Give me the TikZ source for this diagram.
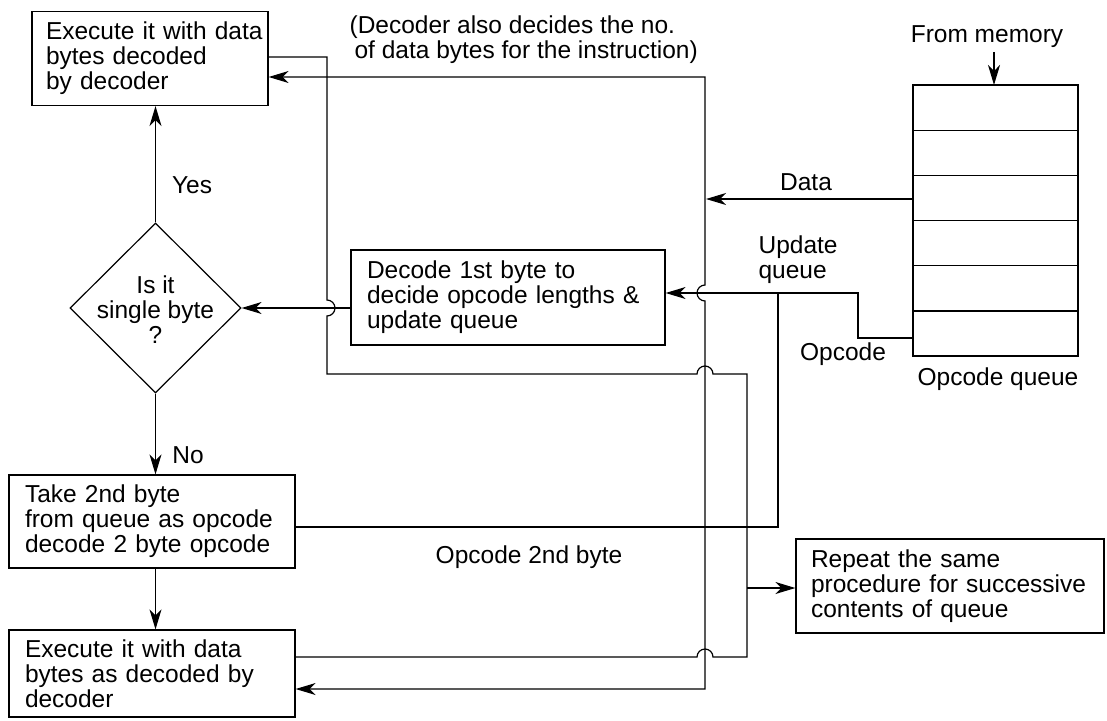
\documentclass[tikz,border=0pt]{standalone}
\usepackage{fontspec}
\setmainfont{Liberation Sans}
\usetikzlibrary{arrows.meta,shapes.geometric}

\begin{document}
\begin{tikzpicture}[x=1pt,y=-1pt,line width=1.2pt,
    font=\fontsize{24.5}{25}\selectfont,
    >={Stealth[length=20pt,width=12pt,inset=6pt]},
    box/.style={draw,align=left,inner ysep=0pt},
    decision/.style={draw,diamond,inner sep=0pt,minimum width=171pt,minimum height=170pt},
    arr/.style={->}]
\useasboundingbox (0,0) rectangle (1107,720);

% boxes of the flow chart
\node[box,inner xsep=5pt,text width=226pt,minimum height=94pt] (exec1) at (150,58.5) {\hspace*{9pt}Execute it with data\\\hspace*{9pt}bytes decoded\\\hspace*{9pt}by decoder};
\node[decision] (single) at (155.5,308) {};
\node[align=center] (singletxt) at (155.5,310) {Is it\\single byte\\?};
\node[box,inner xsep=16pt,text width=282pt,minimum height=95pt] (decode) at (508,297.5) {Decode 1st byte to\\decide opcode lengths \&\\update queue};
\node[box,inner xsep=16pt,text width=254pt,minimum height=93pt] (take) at (152,521.5) {Take 2nd byte\\from queue as opcode\\decode 2 byte opcode};
\node[box,inner xsep=16pt,text width=254pt,minimum height=87pt] (exec2) at (152,673.5) {Execute it with data\\bytes as decoded by\\decoder};
\node[box,inner xsep=15pt,text width=278pt,minimum height=94pt] (repeat) at (950,586) {Repeat the same\\procedure for successive\\contents of queue};

% opcode queue
\node[draw,minimum width=165pt,minimum height=271pt,inner sep=0pt] (queue) at (995.5,220.5) {};
\foreach \r in {1,...,5}
    \draw (913,{85+45.2*\r}) -- (1078,{85+45.2*\r});

% labels
\node[align=left,anchor=north west,inner sep=0pt] (note) at (349,15) {(Decoder also decides the no.\\\hspace*{5pt}of data bytes for the instruction)};
\node (mem) at (987,37) {From memory};
\node (lblData) at (806,182) {Data};
\node[align=left,anchor=west,inner sep=0pt] (lblUpd) at (758,260) {Update\\queue};
\node (lblOpc) at (843,354) {Opcode};
\node (lblQueue) at (998,379) {Opcode queue};
\node (lbl2nd) at (529,557) {Opcode 2nd byte};
\node (lblYes) at (192,185) {Yes};
\node (lblNo) at (188,455) {No};

% corner points
\coordinate (memIn) at (994,85);
\coordinate (lpA) at (327,57);
\coordinate (lpB) at (327,374);
\coordinate (lpC) at (747,374);
\coordinate (lpD) at (747,657);
\coordinate (rpt) at (747,588);
\coordinate (dtA) at (705,77);
\coordinate (dtB) at (705,689);
\coordinate (dtIn) at (706,199);
\coordinate (opA) at (858,338);
\coordinate (opB) at (858,293);
\coordinate (updA) at (778,293);
\coordinate (updB) at (778,527);

% main flow
\draw[arr] (single.north) -- (single.north |- exec1.south);
\draw[arr] (single.south) -- (single.south |- take.north);
\draw[arr] (single.south |- take.south) -- (single.south |- exec2.north);
\draw[arr] (decode.west |- single.east) -- (single.east);
\draw[arr] (mem.south -| memIn) -- (memIn);

% loop back to repeat
\draw (exec1.east |- lpA) -- (lpA) -- (327,300) arc[start angle=90,end angle=-90,radius=8pt]
    -- (lpB) -- (697,374) arc[start angle=180,end angle=0,radius=8pt] -- (lpC) -- (lpD)
    -- (713,657) arc[start angle=0,end angle=180,radius=8pt] -- (exec2.east |- lpD);
\draw[arr] (rpt) -- (repeat.west |- rpt);

% data bytes
\draw[<->] (exec1.east |- dtA) -- (dtA) -- (705,285) arc[start angle=90,end angle=270,radius=8pt]
    -- (dtB) -- (exec2.east |- dtB);
\draw[arr] (queue.west |- dtIn) -- (dtIn);

% opcode and queue update
\draw[arr] (queue.west |- opA) -- (opA) -- (opB) -- (decode.east |- opB);
\draw (updA) -- (updB) -- (take.east |- updB);
\end{tikzpicture}
\end{document}
